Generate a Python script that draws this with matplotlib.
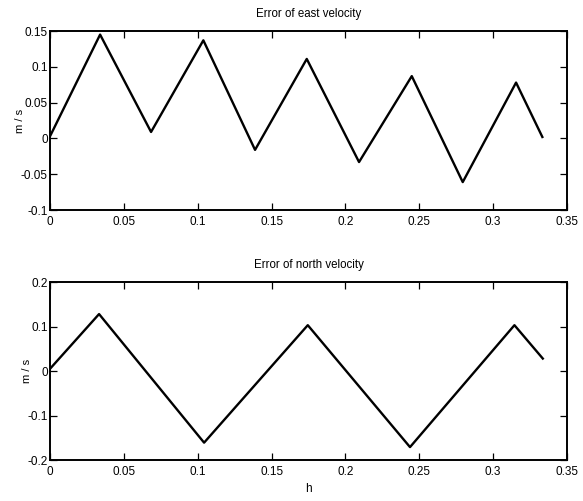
import matplotlib
matplotlib.use("Agg")
import matplotlib.pyplot as plt

plt.rcParams['font.family'] = ['Liberation Sans Narrow', 'Liberation Sans', 'DejaVu Sans']

# East velocity error (vertices)
east_t = [0.0, 0.0339, 0.0684, 0.1038, 0.1388, 0.1738, 0.2092, 0.2449, 0.2794, 0.3155, 0.3333]
east_v = [0.003, 0.145, 0.009, 0.137, -0.016, 0.111, -0.033, 0.087, -0.061, 0.078, 0.002]

# North velocity error
north_t = [0.0, 0.0332, 0.1043, 0.1745, 0.2437, 0.3144, 0.3336]
north_v = [0.005, 0.128, -0.161, 0.103, -0.171, 0.103, 0.028]

xticks = [0, 0.05, 0.1, 0.15, 0.2, 0.25, 0.3, 0.35]
xtick_labels = ['0', '0.05', '0.1', '0.15', '0.2', '0.25', '0.3', '0.35']
east_yticks = [-0.1, -0.05, 0, 0.05, 0.1, 0.15]
east_ylabels = ['-0.1', '-0.05', '0', '0.05', '0.1', '0.15']
north_yticks = [-0.2, -0.1, 0, 0.1, 0.2]
north_ylabels = ['-0.2', '-0.1', '0', '0.1', '0.2']

fig = plt.figure(figsize=(5.83, 5.01), dpi=100)
ax1 = fig.add_axes([0.0858, 0.5808, 0.8868, 0.3573])
ax2 = fig.add_axes([0.0858, 0.0818, 0.8868, 0.3553])

def style(ax, yt, yl):
    ax.set_xlim(0, 0.35)
    ax.set_xticks(xticks)
    ax.set_xticklabels(xtick_labels)
    ax.set_yticks(yt)
    ax.set_yticklabels(yl)
    ax.set_ylim(yt[0], yt[-1])
    ax.tick_params(direction='in', top=True, right=True, length=5, width=0.9,
                   labelsize=8.5)
    ax.tick_params(axis='x', pad=4)
    ax.tick_params(axis='y', pad=1.5)
    for s in ax.spines.values():
        s.set_linewidth(1.4)
    ax.set_ylabel('m / s', fontsize=8, labelpad=-3)

ax1.plot(east_t, east_v, color='black', lw=1.7)
style(ax1, east_yticks, east_ylabels)
ax1.set_title('Error of east velocity', fontsize=8.3, pad=10)

ax2.plot(north_t, north_v, color='black', lw=1.7)
style(ax2, north_yticks, north_ylabels)
ax2.set_title('Error of north velocity', fontsize=8.3, pad=10)
ax2.set_xlabel('h', fontsize=8.5, labelpad=4)

fig.savefig('out.png', dpi=100)
